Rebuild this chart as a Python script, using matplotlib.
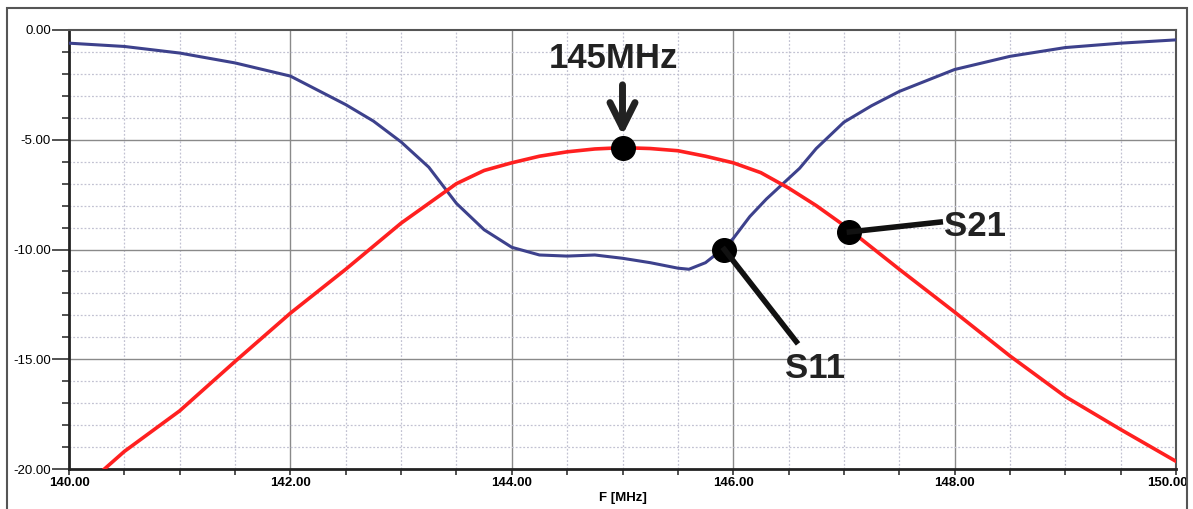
import matplotlib.pyplot as plt
from matplotlib.patches import Rectangle
from matplotlib.ticker import MultipleLocator, FormatStrFormatter, FuncFormatter

plt.rcParams['font.family'] = ['Liberation Sans', 'DejaVu Sans']

# S11 (azul)
f_s11 = [140.0, 140.5, 141.0, 141.5, 142.0, 142.5, 142.75, 143.0, 143.25, 143.5,
         143.75, 144.0, 144.25, 144.5, 144.75, 145.0, 145.25, 145.5, 145.6, 145.75,
         145.9, 146.0, 146.15, 146.3, 146.45, 146.6, 146.75, 147.0, 147.25, 147.5,
         147.75, 148.0, 148.5, 149.0, 149.5, 150.0]
s11 = [-0.6, -0.75, -1.05, -1.5, -2.1, -3.4, -4.15, -5.1, -6.25, -7.9,
       -9.1, -9.9, -10.25, -10.3, -10.25, -10.4, -10.6, -10.85, -10.9, -10.6,
       -10.0, -9.5, -8.5, -7.7, -7.0, -6.3, -5.4, -4.2, -3.45, -2.8,
       -2.3, -1.8, -1.2, -0.8, -0.6, -0.45]

# S21 (vermelho)
f_s21 = [140.32, 140.5, 141.0, 141.5, 142.0, 142.5, 143.0, 143.25, 143.5, 143.75,
         144.0, 144.25, 144.5, 144.75, 145.0, 145.25, 145.5, 145.75, 146.0, 146.25,
         146.5, 146.75, 147.0, 147.5, 148.0, 148.5, 149.0, 149.5, 150.0]
s21 = [-20.0, -19.2, -17.35, -15.1, -12.9, -10.9, -8.8, -7.9, -7.0, -6.4,
       -6.05, -5.75, -5.55, -5.42, -5.36, -5.4, -5.5, -5.75, -6.05, -6.5,
       -7.2, -8.0, -8.9, -10.9, -12.85, -14.85, -16.7, -18.2, -19.65]

# marcadores das anotacoes
marcadores_f = [145.0, 145.92, 147.05]
marcadores_db = [-5.36, -10.0, -9.2]

f_min, f_max = 140, 150

fig = plt.figure(figsize=(11.93, 5.09), dpi=100)
ax = fig.add_axes([69 / 1193, 40 / 509, 1107 / 1193, 439 / 509])

# moldura externa
fig.patches.append(Rectangle((7 / 1193, -0.02), 1180 / 1193, 1 - 8 / 509 + 0.02,
                             transform=fig.transFigure, fill=False,
                             edgecolor='#555555', lw=1.5))

ax.set_xlim(f_min, f_max)
ax.set_ylim(-20, 0)

# grade
for f in [140 + 0.5 * i for i in range(1, 20)]:
    if f % 2 == 0:
        ax.axvline(f, color='#8a8a8a', lw=1.0, zorder=0)
    else:
        ax.axvline(f, color='#c2c2d2', lw=0.9, ls=(0, (1.5, 1.5)), zorder=0)
for d in range(-19, 0):
    if d % 5 == 0:
        ax.axhline(d, color='#8a8a8a', lw=1.0, zorder=0)
    else:
        ax.axhline(d, color='#c2c2d2', lw=0.9, ls=(0, (1.5, 1.5)), zorder=0)

ax.plot(f_s11, s11, color='#3d418c', lw=2.2, zorder=3)
ax.plot(f_s21, s21, color='#ff2020', lw=2.6, zorder=3)

ax.plot(marcadores_f, marcadores_db, 'o', color='black', ms=17, zorder=5)

# 145MHz
ax.text(144.92, -1.3, '145MHz', fontsize=25, fontweight='bold', ha='center',
        va='center', color='#222222')
ax.annotate('', xy=(145.0, -4.8), xytext=(145.0, -2.5),
            arrowprops=dict(arrowstyle='->', lw=5, color='#222222',
                            mutation_scale=45, shrinkA=0, shrinkB=0), zorder=6)

# S21
ax.plot([147.05, 147.87], [-9.2, -8.75], color='#111111', lw=4, zorder=5)
ax.text(147.9, -8.95, 'S21', fontsize=25, fontweight='bold', ha='left',
        va='center', color='#222222')

# S11
ax.plot([145.92, 146.57], [-10.0, -14.2], color='#111111', lw=4, zorder=5)
ax.text(146.74, -15.4, 'S11', fontsize=25, fontweight='bold', ha='center',
        va='center', color='#222222')

# eixos
ax.xaxis.set_major_locator(MultipleLocator(2))
ax.xaxis.set_minor_locator(MultipleLocator(0.5))
ax.yaxis.set_major_locator(MultipleLocator(5))
ax.yaxis.set_minor_locator(MultipleLocator(1))
# o ultimo rotulo (150.00) vai a parte, puxado para dentro da moldura
ax.xaxis.set_major_formatter(FuncFormatter(lambda v, p: '' if v >= f_max else '%.2f' % v))
ax.yaxis.set_major_formatter(FormatStrFormatter('%.2f'))
ax.tick_params(axis='x', which='both', length=4, width=1.2, pad=2,
               labelsize=9.5, color='#333333')
ax.tick_params(axis='y', which='major', length=12, width=1.2, pad=1,
               labelsize=9.5, color='#333333')
ax.tick_params(axis='y', which='minor', length=5, width=1.2, color='#333333')
for lbl in ax.get_xticklabels():
    lbl.set_fontweight('bold')
ax.xaxis.set_tick_params(labelcolor='black')
plt.setp(ax.get_xticklabels(), fontweight='bold')
ax.annotate('%.2f' % f_max, xy=(f_max, 0), xycoords=ax.get_xaxis_transform(),
            xytext=(-6.5, -6), textcoords='offset points', ha='center', va='top',
            fontsize=9.5, fontweight='bold')
ax.set_xlabel('F [MHz]', fontsize=9.5, fontweight='bold', labelpad=2)

for lado in ['left', 'bottom']:
    ax.spines[lado].set_linewidth(2)
    ax.spines[lado].set_color('#222222')
for lado in ['top', 'right']:
    ax.spines[lado].set_linewidth(1.5)
    ax.spines[lado].set_color('#555555')

fig.savefig('out.png', dpi=100)
